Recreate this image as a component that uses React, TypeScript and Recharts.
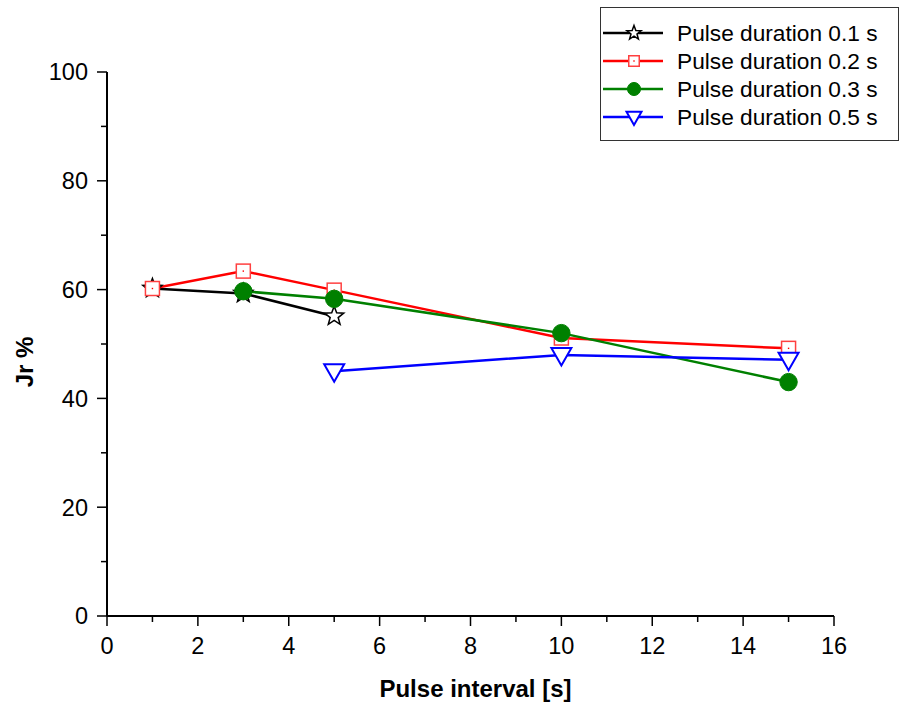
import React from 'react';
import { LineChart, Line, XAxis, YAxis, Legend } from 'recharts';

const intervals01 = [1, 3, 5];
const jr01 = [60.2, 59.3, 55.1];
const intervals02 = [1, 3, 5, 10, 15];
const jr02 = [60.2, 63.4, 59.9, 51.1, 49.2];
const intervals03 = [3, 5, 10, 15];
const jr03 = [59.7, 58.3, 52.0, 43.0];
const intervals05 = [5, 10, 15];
const jr05 = [45.0, 48.0, 47.1];

const xTicks = [0, 1, 2, 3, 4, 5, 6, 7, 8, 9, 10, 11, 12, 13, 14, 15, 16];
const yTicks = [0, 10, 20, 30, 40, 50, 60, 70, 80, 90, 100];

const seriesNames = ['Pulse duration 0.1 s', 'Pulse duration 0.2 s', 'Pulse duration 0.3 s', 'Pulse duration 0.5 s'];
const seriesColors = ['#000000', '#ff0000', '#008000', '#0000ff'];

const toRows = (xs: number[], ys: number[]) => xs.map((x, i) => ({ x, y: ys[i] }));

const FONT = '"Liberation Sans", Arial, sans-serif';

function Marker({ kind, cx, cy, s = 1 }: { kind: number; cx: number; cy: number; s?: number }) {
  if (kind === 0) {
    const pts: string[] = [];
    for (let i = 0; i < 10; i++) {
      const r = (i % 2 === 0 ? 10 : 4.2) * s;
      const a = -Math.PI / 2 + (i * Math.PI) / 5;
      pts.push(`${cx + r * Math.cos(a)},${cy + r * Math.sin(a)}`);
    }
    return <polygon points={pts.join(' ')} fill="#fff" stroke="#000" strokeWidth={1.5} />;
  }
  if (kind === 1) {
    const h = 7 * s;
    return (
      <g>
        <rect x={cx - h} y={cy - h} width={2 * h} height={2 * h} fill="#fff" stroke="#ff4040" strokeWidth={1.5} />
        <rect x={cx - 0.7} y={cy - 0.7} width={1.4} height={1.4} fill="#ff0000" />
      </g>
    );
  }
  if (kind === 2) {
    return <circle cx={cx} cy={cy} r={8.7 * s} fill="#008000" stroke="#008000" strokeWidth={1} />;
  }
  const w = 10 * s;
  return (
    <polygon
      points={`${cx - w},${cy - 7 * s} ${cx + w},${cy - 7 * s} ${cx},${cy + 10.5 * s}`}
      fill="#fff"
      stroke="#0000ff"
      strokeWidth={2}
    />
  );
}

const makeDot = (kind: number) => (props: any) => (
  <Marker key={`m${kind}-${props.index}`} kind={kind} cx={props.cx} cy={props.cy} />
);

const XTick = (props: any) => {
  const { x, y, payload } = props;
  const v = payload.value;
  const major = v % 2 === 0;
  return (
    <g>
      <line x1={x} y1={y} x2={x} y2={y + (major ? 10 : 6)} stroke="#000" strokeWidth={1.5} />
      {major && (
        <text x={x} y={y + 38} textAnchor="middle" fontSize={23.5} fontFamily={FONT} fill="#000">
          {v}
        </text>
      )}
    </g>
  );
};

const YTick = (props: any) => {
  const { x, y, payload } = props;
  const v = payload.value;
  const major = v % 20 === 0;
  return (
    <g>
      <line x1={x} y1={y} x2={x - (major ? 10 : 6)} y2={y} stroke="#000" strokeWidth={1.5} />
      {major && (
        <text x={x - 19} y={y + 8.4} textAnchor="end" fontSize={23.5} fontFamily={FONT} fill="#000">
          {v}
        </text>
      )}
    </g>
  );
};

const LegendBox = () => (
  <svg width={300} height={134} style={{ display: 'block' }}>
    <rect x={0.5} y={0.5} width={298} height={133} fill="#fff" stroke="#333" strokeWidth={1} />
    {seriesNames.map((name, i) => {
      const cy = 26 + i * 28;
      return (
        <g key={name}>
          <line x1={3} y1={cy} x2={63} y2={cy} stroke={seriesColors[i]} strokeWidth={2.5} />
          <Marker kind={i} cx={34} cy={cy} s={0.75} />
          <text x={77} y={cy + 8} fontSize={22.7} fontFamily={FONT} fill="#000">
            {name}
          </text>
        </g>
      );
    })}
  </svg>
);

export default function App() {
  return (
    <div style={{ position: 'absolute', left: 0, top: 0, width: 900, height: 707, background: '#fff' }}>
      <LineChart width={900} height={707} margin={{ top: 72, right: 66, bottom: 0, left: 0 }}>
        <XAxis
          type="number"
          dataKey="x"
          domain={[0, 16]}
          ticks={xTicks}
          interval={0}
          allowDuplicatedCategory={false}
          height={91}
          tickSize={0}
          tickMargin={0}
          tickLine={false}
          tick={<XTick />}
          axisLine={{ stroke: '#000', strokeWidth: 2 }}
          label={{
            content: (p: any) => (
              <text
                x={p.viewBox.x + p.viewBox.width / 2 + 5}
                y={p.viewBox.y + 81}
                textAnchor="middle"
                fontSize={24}
                fontWeight="bold"
                fontFamily={FONT}
                fill="#000"
              >
                Pulse interval [s]
              </text>
            ),
          }}
        />
        <YAxis
          type="number"
          dataKey="y"
          domain={[0, 100]}
          ticks={yTicks}
          interval={0}
          width={107}
          tickSize={0}
          tickMargin={0}
          tickLine={false}
          tick={<YTick />}
          axisLine={{ stroke: '#000', strokeWidth: 2 }}
          label={{
            content: (p: any) => {
              const cy = p.viewBox.y + p.viewBox.height / 2 + 18;
              return (
                <text
                  x={33}
                  y={cy}
                  transform={`rotate(-90 33 ${cy})`}
                  textAnchor="middle"
                  fontSize={24}
                  fontWeight="bold"
                  fontFamily={FONT}
                  fill="#000"
                >
                  Jr %
                </text>
              );
            },
          }}
        />
        <Legend
          layout="horizontal"
          verticalAlign="middle"
          align="center"
          wrapperStyle={{ position: 'absolute', left: 600, top: 7, width: 300, height: 134 }}
          content={() => <LegendBox />}
        />
        <Line data={toRows(intervals01, jr01)} dataKey="y" name={seriesNames[0]} stroke={seriesColors[0]} strokeWidth={2.5} dot={makeDot(0)} isAnimationActive={false} />
        <Line data={toRows(intervals02, jr02)} dataKey="y" name={seriesNames[1]} stroke={seriesColors[1]} strokeWidth={2.5} dot={makeDot(1)} isAnimationActive={false} />
        <Line data={toRows(intervals03, jr03)} dataKey="y" name={seriesNames[2]} stroke={seriesColors[2]} strokeWidth={2.5} dot={makeDot(2)} isAnimationActive={false} />
        <Line data={toRows(intervals05, jr05)} dataKey="y" name={seriesNames[3]} stroke={seriesColors[3]} strokeWidth={2.5} dot={makeDot(3)} isAnimationActive={false} />
      </LineChart>
    </div>
  );
}
